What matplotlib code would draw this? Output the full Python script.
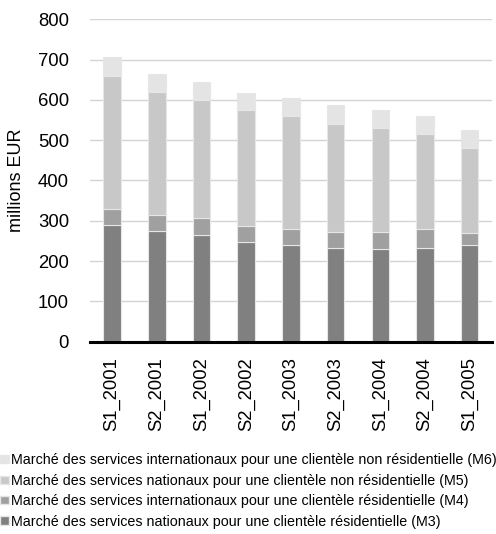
import numpy as np
import matplotlib
matplotlib.use("Agg")
from matplotlib import pyplot as plt
from matplotlib.patches import Patch

plt.rcParams['font.family'] = ['Liberation Sans', 'DejaVu Sans']

periodes = ["S1_2001", "S2_2001", "S1_2002", "S2_2002", "S1_2003",
            "S2_2003", "S1_2004", "S2_2004", "S1_2005"]
m3 = [290, 274, 265, 247, 239, 233, 231, 233, 239]
m4 = [39, 40, 41, 41, 40, 40, 42, 47, 30]
m5 = [330, 305, 293, 286, 280, 268, 257, 235, 211]
m6 = [48, 46, 46, 44, 46, 47, 46, 46, 46]

series = [
    ("Marché des services nationaux pour une clientèle résidentielle (M3)", m3, "#808080"),
    ("Marché des services internationaux pour une clientèle résidentielle (M4)", m4, "#a0a0a0"),
    ("Marché des services nationaux pour une clientèle non résidentielle (M5)", m5, "#c8c8c8"),
    ("Marché des services internationaux pour une clientèle non résidentielle (M6)", m6, "#e4e4e4"),
]

fig = plt.figure(figsize=(4.96, 5.34), dpi=100)
ax = fig.add_axes([0.181, 0.360, 0.811, 0.604])

x = np.arange(len(periodes))
bottom = np.zeros(len(periodes))
handles = []
for nom, vals, couleur in series:
    ax.bar(x, vals, width=0.39, bottom=bottom, color=couleur,
           edgecolor="#e6e6e6", linewidth=0.8, zorder=3)
    bottom += np.array(vals)
    handles.append(Patch(facecolor=couleur, edgecolor="#e6e6e6", label=nom))

ax.set_xlim(-0.5, 8.5)
ax.set_ylim(0, 800)
ax.set_yticks(range(0, 801, 100))
ax.set_xticks(x)
ax.set_xticklabels(periodes, rotation=90)
ax.tick_params(axis="y", length=0, pad=15, labelsize=13.3)
ax.tick_params(axis="x", length=0, pad=11, labelsize=13.3)
ax.grid(axis="y", color="#d4d4d4", linewidth=1.0, zorder=0)
for s in ["top", "right", "left"]:
    ax.spines[s].set_visible(False)
ax.spines["bottom"].set_linewidth(2.2)
ax.spines["bottom"].set_color("black")
ax.spines["bottom"].set_zorder(4)
ax.set_ylabel("millions EUR", fontsize=13)
ax.yaxis.set_label_coords(-0.16, 0.5)

fig.legend(handles=handles[::-1], loc="upper left", bbox_to_anchor=(0.0, 0.151),
           frameon=False, fontsize=10.3, handlelength=0.63, handleheight=0.52,
           handletextpad=0.15, labelspacing=0.45, borderpad=0, borderaxespad=0)

plt.savefig("out.png", dpi=100)
